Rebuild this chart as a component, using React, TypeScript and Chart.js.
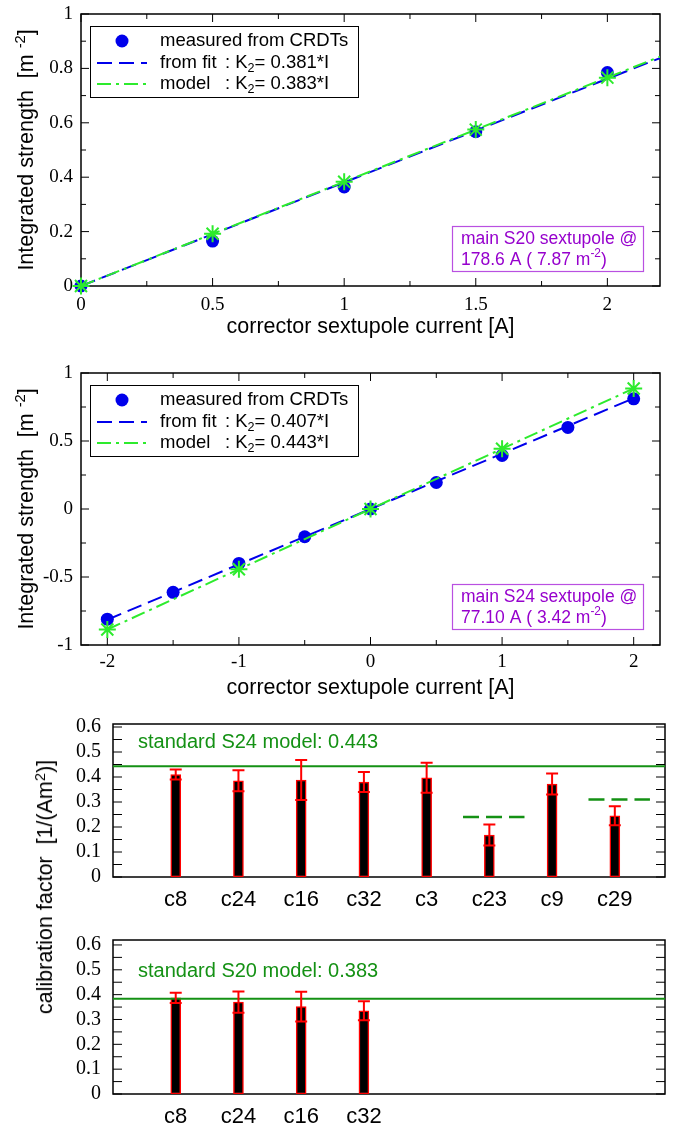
import React, { useEffect, useRef } from 'react';
import { Chart, registerables } from 'chart.js';

Chart.register(...registerables);

// ---------------- data ----------------
// Panel 1 : S20 corrector sextupole
const s20Current = [0, 0.5, 1, 1.5, 2];
const s20Measured = [0, 0.165, 0.364, 0.567, 0.785];
const s20ModelCurrent = [0, 0.5, 1, 1.5, 2];
const s20Model = [0, 0.192, 0.383, 0.575, 0.766];
const s20LineCurrent = [0, 2.2];
const s20FitLine = [0, 0.838];
const s20ModelLine = [0, 0.843];
const s20FitSlope = '0.381';
const s20ModelSlope = '0.383';
const s20XTicks = [0, 0.5, 1, 1.5, 2];
const s20XMinor = [0.25, 0.75, 1.25, 1.75];
const s20YTicks = [0, 0.2, 0.4, 0.6, 0.8, 1];
const s20YMinor = [0.1, 0.3, 0.5, 0.7, 0.9];
const s20NoteLine1 = 'main S20 sextupole @';
const s20NoteLine2 = '178.6 A ( 7.87 m';

// Panel 2 : S24 corrector sextupole
const s24Current = [-2, -1.5, -1, -0.5, 0, 0.5, 1, 1.5, 2];
const s24Measured = [-0.81, -0.613, -0.4, -0.204, 0, 0.195, 0.394, 0.6, 0.81];
const s24ModelCurrent = [-2, -1, 0, 1, 2];
const s24Model = [-0.886, -0.443, 0, 0.443, 0.886];
const s24LineCurrent = [-2, 2];
const s24FitLine = [-0.814, 0.814];
const s24ModelLine = [-0.886, 0.886];
const s24FitSlope = '0.407';
const s24ModelSlope = '0.443';
const s24XTicks = [-2, -1, 0, 1, 2];
const s24XMinor = [-1.5, -0.5, 0.5, 1.5];
const s24YTicks = [-1, -0.5, 0, 0.5, 1];
const s24YMinor = [-0.75, -0.25, 0.25, 0.75];
const s24NoteLine1 = 'main S24 sextupole @';
const s24NoteLine2 = '77.10 A ( 3.42 m';

// Panel 3 : calibration factors, S24 family
const s24Correctors = ['c8', 'c24', 'c16', 'c32', 'c3', 'c23', 'c9', 'c29'];
const s24Calib = [0.41, 0.385, 0.388, 0.38, 0.397, 0.168, 0.372, 0.245];
const s24CalibErr = [0.02, 0.042, 0.08, 0.04, 0.06, 0.042, 0.042, 0.038];
const s24StdModel = 0.443;
const s24StdText = 'standard S24 model: 0.443';
const s24RefCorrectors = ['c23', 'c29'];
const s24RefValues = [0.24, 0.31];

// Panel 4 : calibration factors, S20 family
const s20Correctors = ['c8', 'c24', 'c16', 'c32'];
const s20Calib = [0.387, 0.37, 0.352, 0.335];
const s20CalibErr = [0.021, 0.043, 0.06, 0.038];
const s20StdModel = 0.383;
const s20StdText = 'standard S20 model: 0.383';

const calibYTicks = [0, 0.1, 0.2, 0.3, 0.4, 0.5, 0.6];
const calibYMinor = [0.05, 0.15, 0.25, 0.35, 0.45, 0.55];

// ---------------- styles ----------------
const SANS = '"Liberation Sans", Arial, Helvetica, sans-serif';
const SERIF = '"Liberation Serif", "Times New Roman", serif';
const BLUE = 'rgb(0,0,235)';
const GREEN = 'rgb(45,235,45)';
const PURPLE = 'rgb(150,0,205)';
const PURPLE_BOX = 'rgb(185,80,225)';
const DKGREEN = 'rgb(20,145,20)';
const RED = 'rgb(255,0,0)';

type Part = { t: string; sub?: boolean; sup?: boolean };

function drawParts(ctx: CanvasRenderingContext2D, parts: Part[], x: number, y: number, size: number, measureOnly = false) {
  let cx = x;
  for (const p of parts) {
    const small = p.sub || p.sup;
    const s = small ? size * 0.68 : size;
    ctx.font = `${s}px ${SANS}`;
    const dy = p.sub ? size * 0.3 : p.sup ? -size * 0.38 : 0;
    if (!measureOnly) ctx.fillText(p.t, cx, y + dy);
    cx += ctx.measureText(p.t).width;
  }
  return cx - x;
}

function framePlugin(cfg: { xMajor: number[]; xMinor: number[]; yMajor: number[]; yMinor: number[]; major: number; minor: number }) {
  return {
    id: 'frameTicks',
    beforeDatasetsDraw(chart: any) {
      const { ctx, chartArea: a, scales } = chart;
      const xs = scales.x;
      const ys = scales.y;
      ctx.save();
      ctx.strokeStyle = '#000';
      ctx.lineWidth = 1;
      ctx.beginPath();
      const ty = (v: number, len: number) => {
        const p = ys.getPixelForValue(v);
        ctx.moveTo(a.left, p);
        ctx.lineTo(a.left + len, p);
        ctx.moveTo(a.right, p);
        ctx.lineTo(a.right - len, p);
      };
      const tx = (v: number, len: number) => {
        const p = xs.getPixelForValue(v);
        ctx.moveTo(p, a.bottom);
        ctx.lineTo(p, a.bottom - len);
        ctx.moveTo(p, a.top);
        ctx.lineTo(p, a.top + len);
      };
      cfg.yMajor.forEach((v) => ty(v, cfg.major));
      cfg.yMinor.forEach((v) => ty(v, cfg.minor));
      cfg.xMajor.forEach((v) => tx(v, cfg.major));
      cfg.xMinor.forEach((v) => tx(v, cfg.minor));
      ctx.stroke();
      ctx.lineWidth = 1.5;
      ctx.strokeRect(a.left, a.top, a.right - a.left, a.bottom - a.top);
      ctx.restore();
    },
  };
}

function yTitlePlugin(parts: Part[], baselineX: number, size: number) {
  return {
    id: 'yTitle',
    afterDraw(chart: any) {
      const { ctx, chartArea: a } = chart;
      ctx.save();
      ctx.fillStyle = '#000';
      ctx.textBaseline = 'alphabetic';
      ctx.textAlign = 'left';
      const w = drawParts(ctx, parts, 0, 0, size, true);
      ctx.translate(baselineX, (a.top + a.bottom) / 2);
      ctx.rotate(-Math.PI / 2);
      drawParts(ctx, parts, -w / 2, 0, size);
      ctx.restore();
    },
  };
}

function legendPlugin(rows: { name: string; rest?: Part[] }[]) {
  return {
    id: 'boxLegend',
    afterDatasetsDraw(chart: any) {
      const { ctx, chartArea: a } = chart;
      const ds = chart.data.datasets;
      const bx = a.left + 9;
      const by = a.top + 12;
      const bw = 268;
      const bh = 71;
      ctx.save();
      ctx.fillStyle = '#fff';
      ctx.fillRect(bx, by, bw, bh);
      ctx.strokeStyle = '#000';
      ctx.lineWidth = 1;
      ctx.strokeRect(bx + 0.5, by + 0.5, bw, bh);
      const rowY = [by + 15, by + 37, by + 58];
      rows.forEach((r, i) => {
        const y = rowY[i];
        const d = ds[i];
        if (i === 0) {
          ctx.fillStyle = d.backgroundColor;
          ctx.beginPath();
          ctx.arc(bx + 32, y, d.pointRadius, 0, Math.PI * 2);
          ctx.fill();
        } else {
          ctx.strokeStyle = d.borderColor;
          ctx.lineWidth = d.borderWidth;
          ctx.setLineDash(d.borderDash || []);
          ctx.beginPath();
          ctx.moveTo(bx + 7, y);
          ctx.lineTo(bx + 57, y);
          ctx.stroke();
          ctx.setLineDash([]);
        }
        ctx.fillStyle = '#000';
        ctx.textBaseline = 'middle';
        ctx.textAlign = 'left';
        drawParts(ctx, [{ t: r.name }], bx + 70, y, 18.5);
        if (r.rest) drawParts(ctx, r.rest, bx + 135, y, 18.5);
      });
      ctx.restore();
    },
  };
}

function notePlugin(lines: Part[][], bottomGap: number) {
  return {
    id: 'noteBox',
    afterDatasetsDraw(chart: any) {
      const { ctx, chartArea: a } = chart;
      const bw = 191;
      const bh = 45;
      const bx = a.right - 17 - bw;
      const by = a.bottom - bottomGap - bh;
      ctx.save();
      ctx.fillStyle = '#fff';
      ctx.fillRect(bx, by, bw, bh);
      ctx.strokeStyle = PURPLE_BOX;
      ctx.lineWidth = 1.2;
      ctx.strokeRect(bx + 0.5, by + 0.5, bw, bh);
      ctx.fillStyle = PURPLE;
      ctx.textBaseline = 'middle';
      ctx.textAlign = 'left';
      drawParts(ctx, lines[0], bx + 9, by + 13, 17.5);
      drawParts(ctx, lines[1], bx + 9, by + 34, 17.5);
      ctx.restore();
    },
  };
}

function errorBarPlugin(values: number[], errors: number[]) {
  return {
    id: 'errorBars',
    afterDatasetsDraw(chart: any) {
      const { ctx, scales } = chart;
      const ys = scales.y;
      const meta = chart.getDatasetMeta(0);
      ctx.save();
      ctx.strokeStyle = RED;
      ctx.lineWidth = 2;
      meta.data.forEach((el: any, i: number) => {
        const x = el.x;
        const yt = ys.getPixelForValue(values[i] + errors[i]);
        const yb = ys.getPixelForValue(values[i] - errors[i]);
        ctx.beginPath();
        ctx.moveTo(x, yt);
        ctx.lineTo(x, yb);
        ctx.moveTo(x - 6, yt);
        ctx.lineTo(x + 6, yt);
        ctx.moveTo(x - 6, yb);
        ctx.lineTo(x + 6, yb);
        ctx.stroke();
      });
      ctx.restore();
    },
  };
}

function stdLabelPlugin(text: string, labelValue: number) {
  return {
    id: 'stdLabel',
    afterDatasetsDraw(chart: any) {
      const { ctx, chartArea: a, scales } = chart;
      ctx.save();
      ctx.fillStyle = DKGREEN;
      ctx.textBaseline = 'middle';
      ctx.textAlign = 'left';
      ctx.font = `20px ${SANS}`;
      ctx.fillText(text, a.left + 25, scales.y.getPixelForValue(labelValue));
      ctx.restore();
    },
  };
}

const fmt = (v: number) => String(Math.round(v * 1000) / 1000);

const noPad = (s: any) => {
  s.paddingTop = 0;
  s.paddingBottom = 0;
  s.paddingLeft = 0;
  s.paddingRight = 0;
};

interface ScatterPanel {
  canvas: HTMLCanvasElement;
  padTop: number;
  xHeight: number;
  xTickPad: number;
  xTitlePad: number;
  xMin: number;
  xMax: number;
  yMin: number;
  yMax: number;
  xTicks: number[];
  xMinor: number[];
  yTicks: number[];
  yMinor: number[];
  current: number[];
  measured: number[];
  modelCurrent: number[];
  model: number[];
  lineCurrent: number[];
  fitLine: number[];
  modelLine: number[];
  fitSlope: string;
  modelSlope: string;
  note1: string;
  note2: string;
  noteGap: number;
}

function makeScatter(p: ScatterPanel) {
  const pts = (xs: number[], ys: number[]) => xs.map((x, i) => ({ x, y: ys[i] }));
  return new Chart(p.canvas, {
    type: 'scatter',
    data: {
      datasets: [
        {
          label: 'measured from CRDTs',
          data: pts(p.current, p.measured),
          pointStyle: 'circle',
          pointRadius: 6.5,
          backgroundColor: BLUE,
          borderColor: BLUE,
          borderWidth: 0,
          clip: false,
          order: 4,
        },
        {
          label: 'from fit',
          type: 'line',
          data: pts(p.lineCurrent, p.fitLine),
          borderColor: BLUE,
          borderWidth: 2,
          borderDash: [15, 7],
          pointRadius: 0,
          fill: false,
          order: 3,
        },
        {
          label: 'model',
          type: 'line',
          data: pts(p.lineCurrent, p.modelLine),
          borderColor: GREEN,
          borderWidth: 2,
          borderDash: [14, 5, 3, 5],
          pointRadius: 0,
          fill: false,
          order: 2,
        },
        {
          label: 'model points',
          data: pts(p.modelCurrent, p.model),
          pointStyle: 'star',
          pointRadius: 8.5,
          borderColor: GREEN,
          backgroundColor: GREEN,
          borderWidth: 2,
          clip: false,
          order: 1,
        },
      ] as any,
    },
    options: {
      responsive: false,
      animation: false,
      devicePixelRatio: 1,
      layout: { padding: { left: 0, top: p.padTop, right: 18, bottom: 0 } },
      plugins: { legend: { display: false }, tooltip: { enabled: false } },
      scales: {
        x: {
          type: 'linear',
          min: p.xMin,
          max: p.xMax,
          afterBuildTicks: (s: any) => {
            s.ticks = p.xTicks.map((v) => ({ value: v }));
          },
          afterFit: (s: any) => {
            s.height = p.xHeight;
            noPad(s);
          },
          grid: { display: false, drawTicks: false },
          border: { display: false },
          ticks: {
            font: { family: SERIF, size: 19 },
            color: '#000',
            padding: p.xTickPad,
            maxRotation: 0,
            autoSkip: false,
            callback: (v: any) => fmt(Number(v)),
          },
          title: {
            display: true,
            text: 'corrector sextupole current [A]',
            font: { family: SANS, size: 21.5 },
            color: '#000',
            padding: { top: 0, bottom: p.xTitlePad },
          },
        },
        y: {
          type: 'linear',
          min: p.yMin,
          max: p.yMax,
          afterBuildTicks: (s: any) => {
            s.ticks = p.yTicks.map((v) => ({ value: v }));
          },
          afterFit: (s: any) => {
            s.width = 81;
            noPad(s);
          },
          grid: { display: false, drawTicks: false },
          border: { display: false },
          ticks: {
            font: { family: SERIF, size: 19 },
            color: '#000',
            padding: 8,
            autoSkip: false,
            callback: (v: any) => fmt(Number(v)),
          },
        },
      },
    } as any,
    plugins: [
      framePlugin({ xMajor: p.xTicks, xMinor: p.xMinor, yMajor: p.yTicks, yMinor: p.yMinor, major: 8, minor: 5 }),
      yTitlePlugin([{ t: 'Integrated strength  [m ' }, { t: '-2', sup: true }, { t: ']' }], 33, 21.5),
      legendPlugin([
        { name: 'measured from CRDTs' },
        { name: 'from fit', rest: [{ t: ': K' }, { t: '2', sub: true }, { t: '= ' + p.fitSlope + '*I' }] },
        { name: 'model', rest: [{ t: ': K' }, { t: '2', sub: true }, { t: '= ' + p.modelSlope + '*I' }] },
      ]),
      notePlugin([[{ t: p.note1 }], [{ t: p.note2 }, { t: '-2', sup: true }, { t: ')' }]], p.noteGap),
    ],
  });
}

interface BarPanel {
  canvas: HTMLCanvasElement;
  padTop: number;
  xHeight: number;
  yMax: number;
  labels: string[];
  values: number[];
  errors: number[];
  std: number;
  stdText: string;
  stdLabelValue: number;
  refLabels: string[];
  refValues: number[];
}

const CAL_XMIN = 0;
const CAL_XMAX = 8.8;

function makeBars(p: BarPanel) {
  const refSets = p.refLabels.map((lab, k) => {
    const i = p.labels.indexOf(lab) + 1;
    return {
      type: 'line',
      data: [
        { x: i - 0.42, y: p.refValues[k] },
        { x: i + 0.56, y: p.refValues[k] },
      ],
      borderColor: DKGREEN,
      borderWidth: 2.5,
      borderDash: [16, 7],
      pointRadius: 0,
      fill: false,
      order: 1,
    };
  });
  return new Chart(p.canvas, {
    type: 'bar',
    data: {
      datasets: [
        {
          type: 'bar',
          data: p.labels.map((_, i) => ({ x: i + 1, y: p.values[i] })),
          backgroundColor: '#000',
          borderColor: RED,
          borderWidth: 1.5,
          borderSkipped: false,
          barThickness: 10,
          order: 3,
        },
        {
          type: 'line',
          data: [
            { x: CAL_XMIN, y: p.std },
            { x: CAL_XMAX, y: p.std },
          ],
          borderColor: DKGREEN,
          borderWidth: 2,
          pointRadius: 0,
          fill: false,
          order: 2,
        },
        ...refSets,
      ] as any,
    },
    options: {
      responsive: false,
      animation: false,
      devicePixelRatio: 1,
      layout: { padding: { left: 0, top: p.padTop, right: 13, bottom: 0 } },
      plugins: { legend: { display: false }, tooltip: { enabled: false } },
      scales: {
        x: {
          type: 'linear',
          min: CAL_XMIN,
          max: CAL_XMAX,
          offset: false,
          afterBuildTicks: (s: any) => {
            s.ticks = p.labels.map((_, i) => ({ value: i + 1 }));
          },
          afterFit: (s: any) => {
            s.height = p.xHeight;
            noPad(s);
          },
          grid: { display: false, drawTicks: false, offset: false },
          border: { display: false },
          ticks: {
            font: { family: SANS, size: 22 },
            color: '#000',
            padding: 10,
            maxRotation: 0,
            autoSkip: false,
            callback: (v: any) => p.labels[Math.round(Number(v)) - 1] ?? '',
          },
        },
        y: {
          type: 'linear',
          min: 0,
          max: p.yMax,
          afterBuildTicks: (s: any) => {
            s.ticks = calibYTicks.map((v) => ({ value: v }));
          },
          afterFit: (s: any) => {
            s.width = 113;
            noPad(s);
          },
          grid: { display: false, drawTicks: false },
          border: { display: false },
          ticks: {
            font: { family: SERIF, size: 20 },
            color: '#000',
            padding: 12,
            autoSkip: false,
            callback: (v: any) => fmt(Number(v)),
          },
        },
      },
    } as any,
    plugins: [
      framePlugin({ xMajor: [], xMinor: [], yMajor: calibYTicks, yMinor: calibYMinor, major: 9, minor: 9 }),
      errorBarPlugin(p.values, p.errors),
      stdLabelPlugin(p.stdText, p.stdLabelValue),
    ],
  });
}

export default function App() {
  const r1 = useRef<HTMLCanvasElement>(null);
  const r2 = useRef<HTMLCanvasElement>(null);
  const r3 = useRef<HTMLCanvasElement>(null);
  const r4 = useRef<HTMLCanvasElement>(null);

  useEffect(() => {
    const charts = [
      makeScatter({
        canvas: r1.current!,
        padTop: 14,
        xHeight: 59,
        xTickPad: 8,
        xTitlePad: 5,
        xMin: 0,
        xMax: 2.2,
        yMin: 0,
        yMax: 1,
        xTicks: s20XTicks,
        xMinor: s20XMinor,
        yTicks: s20YTicks,
        yMinor: s20YMinor,
        current: s20Current,
        measured: s20Measured,
        modelCurrent: s20ModelCurrent,
        model: s20Model,
        lineCurrent: s20LineCurrent,
        fitLine: s20FitLine,
        modelLine: s20ModelLine,
        fitSlope: s20FitSlope,
        modelSlope: s20ModelSlope,
        note1: s20NoteLine1,
        note2: s20NoteLine2,
        noteGap: 15,
      }),
      makeScatter({
        canvas: r2.current!,
        padTop: 28,
        xHeight: 65,
        xTickPad: 6,
        xTitlePad: 9,
        xMin: -2.2,
        xMax: 2.2,
        yMin: -1,
        yMax: 1,
        xTicks: s24XTicks,
        xMinor: s24XMinor,
        yTicks: s24YTicks,
        yMinor: s24YMinor,
        current: s24Current,
        measured: s24Measured,
        modelCurrent: s24ModelCurrent,
        model: s24Model,
        lineCurrent: s24LineCurrent,
        fitLine: s24FitLine,
        modelLine: s24ModelLine,
        fitSlope: s24FitSlope,
        modelSlope: s24ModelSlope,
        note1: s24NoteLine1,
        note2: s24NoteLine2,
        noteGap: 16,
      }),
      makeBars({
        canvas: r3.current!,
        padTop: 14,
        xHeight: 43,
        yMax: 0.612,
        labels: s24Correctors,
        values: s24Calib,
        errors: s24CalibErr,
        std: s24StdModel,
        stdText: s24StdText,
        stdLabelValue: 0.54,
        refLabels: s24RefCorrectors,
        refValues: s24RefValues,
      }),
      makeBars({
        canvas: r4.current!,
        padTop: 20,
        xHeight: 36,
        yMax: 0.62,
        labels: s20Correctors,
        values: s20Calib,
        errors: s20CalibErr,
        std: s20StdModel,
        stdText: s20StdText,
        stdLabelValue: 0.495,
        refLabels: [],
        refValues: [],
      }),
    ];
    return () => charts.forEach((c) => c.destroy());
  }, []);

  const cv = (top: number, h: number): React.CSSProperties => ({
    position: 'absolute',
    left: 0,
    top,
    width: 678,
    height: h,
    display: 'block',
  });

  return (
    <div style={{ position: 'absolute', left: 0, top: 0, width: 678, height: 1130, background: '#fff', overflow: 'hidden' }}>
      <canvas ref={r1} width={678} height={345} style={cv(0, 345)} />
      <canvas ref={r2} width={678} height={365} style={cv(345, 365)} />
      <canvas ref={r3} width={678} height={210} style={cv(710, 210)} />
      <canvas ref={r4} width={678} height={210} style={cv(920, 210)} />
      <div
        style={{
          position: 'absolute',
          left: 44.5,
          top: 887,
          transform: 'translate(-50%, -50%) rotate(-90deg)',
          whiteSpace: 'nowrap',
          fontFamily: SANS,
          fontSize: 21.5,
          lineHeight: '24px',
          color: '#000',
        }}
      >
        {'calibration factor\u00a0 [1/(Am'}
        <sup style={{ fontSize: '0.68em', lineHeight: 0, verticalAlign: '0.5em' }}>2</sup>
        {')]'}
      </div>
    </div>
  );
}
